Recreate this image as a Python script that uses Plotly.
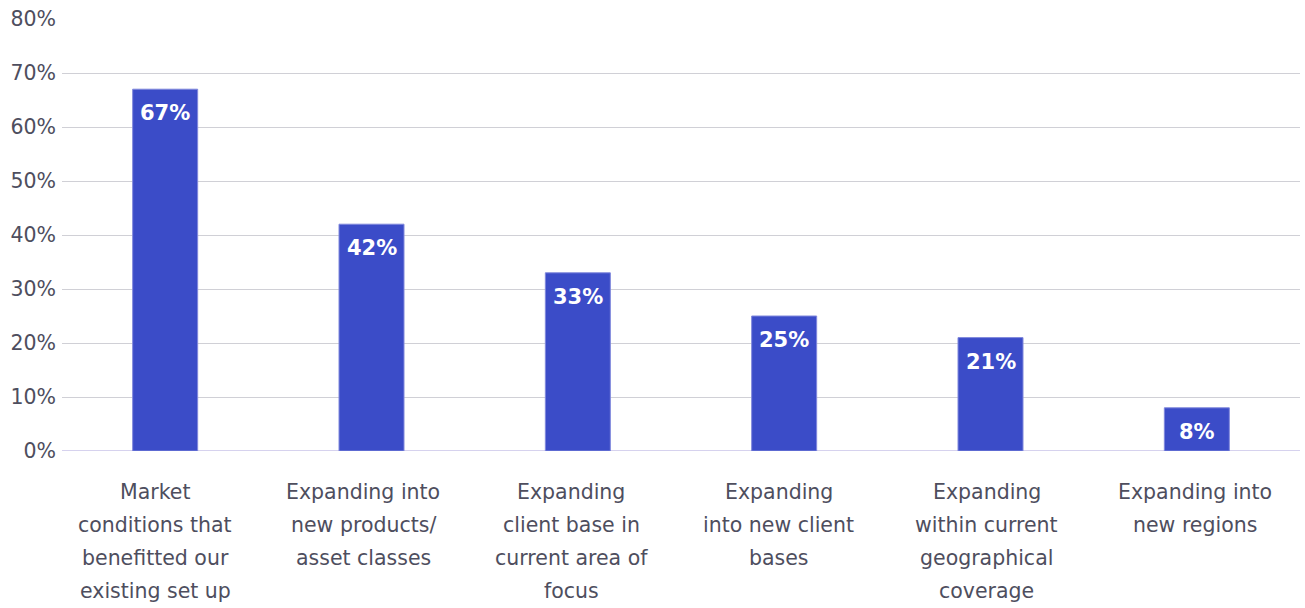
import plotly.graph_objects as go

categories = [
    "Market<br>conditions that<br>benefitted our<br>existing set up",
    "Expanding into<br>new products/<br>asset classes",
    "Expanding<br>client base in<br>current area of<br>focus",
    "Expanding<br>into new client<br>bases",
    "Expanding<br>within current<br>geographical<br>coverage",
    "Expanding into<br>new regions",
]
values = [67, 42, 33, 25, 21, 8]
tick_values = [0, 10, 20, 30, 40, 50, 60, 70, 80]
tick_labels = ["0%", "10%", "20%", "30%", "40%", "50%", "60%", "70%", "80%"]

BAR = "#3b4cc8"
TEXT = "#4e4e5e"

fig = go.Figure(
    go.Bar(
        x=list(range(len(categories))),
        y=values,
        marker=dict(color=BAR, line=dict(color="#8088dc", width=1)),
        width=0.315,
        hoverinfo="skip",
    )
)

annotations = []
# value labels inside the top of each bar
for i, v in enumerate(values):
    annotations.append(dict(
        x=i, y=v, xref="x", yref="y", text=f"<b>{v}%</b>", showarrow=False,
        yanchor="middle", yshift=-24,
        font=dict(family="DejaVu Sans", size=21, color="white"),
    ))
# multi-line category labels below the axis (label row is spaced slightly
# wider than the bars, so nudge each column a little)
for i, cat in enumerate(categories):
    for j, line in enumerate(cat.split("<br>")):
        annotations.append(dict(
            x=i, y=0, xref="x", yref="paper", text=line, showarrow=False,
            yanchor="middle", yshift=-41 - 33 * j, xshift=-10 + 1.6 * i,
            font=dict(family="DejaVu Sans", size=20.5, color=TEXT),
        ))

fig.update_layout(
    width=1305, height=608,
    margin=dict(l=62, r=5, t=19, b=157),
    paper_bgcolor="white", plot_bgcolor="white",
    showlegend=False,
    annotations=annotations,
    xaxis=dict(range=[-0.5, len(categories) - 0.5], showticklabels=False,
               showgrid=False, zeroline=False, showline=False, ticks=""),
    yaxis=dict(range=[0, 80], tickvals=tick_values, ticktext=tick_labels,
               showgrid=True, gridcolor="#d0d0d6", gridwidth=1,
               zeroline=False, showline=False, ticks="", ticklabelstandoff=5,
               tickfont=dict(family="DejaVu Sans", size=20.5, color=TEXT)),
    shapes=[dict(type="line", xref="paper", yref="y", x0=0, x1=1, y0=0, y1=0,
                 line=dict(color="#d6d2ee", width=2), layer="below")],
)

fig.write_html("out.html")
